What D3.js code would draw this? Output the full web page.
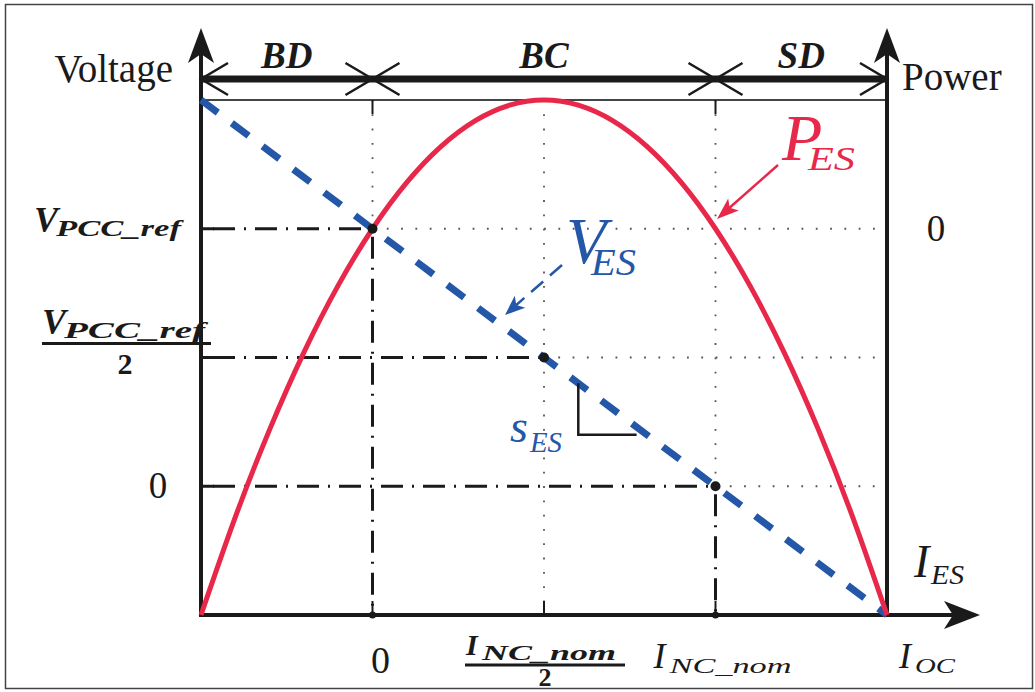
<!DOCTYPE html>
<html>
<head>
<meta charset="utf-8">
<script src="https://cdn.jsdelivr.net/npm/d3@7"></script>
<style>
html, body { margin: 0; padding: 0; background: #fff; }
svg { display: block; }
text { font-family: "Liberation Serif", "Times New Roman", serif; }
</style>
</head>
<body>
<svg id="chart" width="1035" height="692"></svg>
<script>
// current in units of I_NC_nom, voltage in units of V_PCC_ref
const vesCurrent = [-0.5, 1.5]
const vesVoltage = [1.5, -0.5]
const pesCurrent = [-0.5, -0.4, -0.3, -0.2, -0.1, 0, 0.1, 0.2, 0.3, 0.4, 0.5, 0.6, 0.7, 0.8, 0.9, 1, 1.1, 1.2, 1.3, 1.4, 1.5]
const pesPower   = [-0.75, -0.56, -0.39, -0.24, -0.11, 0, 0.09, 0.16, 0.21, 0.24, 0.25, 0.24, 0.21, 0.16, 0.09, 0, -0.11, -0.24, -0.39, -0.56, -0.75]
const keyCurrent = [0, 0.5, 1]
const keyVoltage = [1, 0.5, 0]
const keySolid   = [true, false, true]
const regionNames  = ["BD", "BC", "SD"]
const regionBounds = [-0.5, 0, 1, 1.5]
const slopeCurrent = [0.6, 0.6, 0.77]
const slopeVoltage = [0.4, 0.2, 0.2]

const RED = "#e8284a", BLUE = "#2457a8", INK = "#1a1a1a"

const svg = d3.select("#chart")
const x  = d3.scaleLinear().domain([-0.5, 1.5]).range([201, 887])
const yV = d3.scaleLinear().domain([-0.5, 1.5]).range([615, 100])
const yP = d3.scaleLinear().domain([-0.75, 0.25]).range([615, 100])

const X0 = x(-0.5), X1 = x(1.5), Y0 = yV(-0.5), Y1 = yV(1.5)

// outer frame
svg.append("rect").attr("x", 5.5).attr("y", 4.5).attr("width", 1027).attr("height", 684)
    .attr("fill", "none").attr("stroke", "#444").attr("stroke-width", 1.5)

// stealth arrowhead
function arrowHead(g, tx, ty, angle, L, W, N, color) {
    g.append("path")
        .attr("d", `M0,0L${-L},${-W}L${-L + N},0L${-L},${W}Z`)
        .attr("transform", `translate(${tx},${ty}) rotate(${angle})`)
        .attr("fill", color)
}

const grid = svg.append("g")
const dashDot = "22,9,2,9", dotted = "1.8,12.5"

keyCurrent.forEach((c, i) => {
    const v = keyVoltage[i]
    // horizontal
    grid.append("line").attr("x1", X0 + 12).attr("x2", x(c)).attr("y1", yV(v)).attr("y2", yV(v))
        .attr("stroke", INK).attr("stroke-width", 3).attr("stroke-dasharray", dashDot)
    grid.append("line").attr("x1", x(c)).attr("x2", X1).attr("y1", yV(v)).attr("y2", yV(v))
        .attr("stroke", "#555").attr("stroke-width", 1.8).attr("stroke-dasharray", dotted)
    // vertical
    if (keySolid[i]) {
        grid.append("line").attr("x1", x(c)).attr("x2", x(c)).attr("y1", Y1).attr("y2", yV(v))
            .attr("stroke", "#555").attr("stroke-width", 1.8).attr("stroke-dasharray", dotted)
        grid.append("line").attr("x1", x(c)).attr("x2", x(c)).attr("y1", yV(v) + 8).attr("y2", Y0)
            .attr("stroke", INK).attr("stroke-width", 3).attr("stroke-dasharray", dashDot)
    } else {
        grid.append("line").attr("x1", x(c)).attr("x2", x(c)).attr("y1", Y1).attr("y2", Y0)
            .attr("stroke", "#555").attr("stroke-width", 1.8).attr("stroke-dasharray", dotted)
    }
})

// top thin line
svg.append("line").attr("x1", X0).attr("x2", X1).attr("y1", Y1).attr("y2", Y1)
    .attr("stroke", "#444").attr("stroke-width", 2)
keyCurrent.forEach((c, i) => {
    if (!keySolid[i]) return
    svg.append("line").attr("x1", x(c)).attr("x2", x(c)).attr("y1", Y1).attr("y2", Y1 + 14)
        .attr("stroke", INK).attr("stroke-width", 2)
})

// operating regions bar
const barY = Y1 - 21
const regionG = svg.append("g")
regionG.append("line").attr("x1", X0).attr("x2", X1).attr("y1", barY).attr("y2", barY)
    .attr("stroke", INK).attr("stroke-width", 7)
regionBounds.forEach((b, i) => {
    const bx = x(b)
    if (i > 0) regionG.append("path").attr("d", `M${bx - 27},${barY - 16}L${bx},${barY}L${bx - 27},${barY + 16}`)
        .attr("fill", "none").attr("stroke", INK).attr("stroke-width", 2.5)
    if (i < regionBounds.length - 1) regionG.append("path").attr("d", `M${bx + 27},${barY - 16}L${bx},${barY}L${bx + 27},${barY + 16}`)
        .attr("fill", "none").attr("stroke", INK).attr("stroke-width", 2.5)
})
regionNames.forEach((n, i) => {
    regionG.append("text").attr("x", (x(regionBounds[i]) + x(regionBounds[i + 1])) / 2).attr("y", barY - 11)
        .attr("text-anchor", "middle").attr("font-size", 37).attr("font-weight", "bold")
        .attr("font-style", "italic").attr("fill", INK).text(n)
})

// axes
const axes = svg.append("g")
const tipY = Y1 - 72, tipX = X1 + 93
;[X0, X1].forEach(ax => {
    axes.append("line").attr("x1", ax).attr("x2", ax).attr("y1", Y0 + 2).attr("y2", tipY + 15)
        .attr("stroke", INK).attr("stroke-width", 4)
    arrowHead(axes, ax, tipY, -90, 35, 13, 9, INK)
})
axes.append("line").attr("x1", X0 - 2).attr("x2", tipX - 15).attr("y1", Y0).attr("y2", Y0)
    .attr("stroke", INK).attr("stroke-width", 4)
arrowHead(axes, tipX, Y0, 0, 36, 14, 9, INK)

// ticks
keyCurrent.forEach((c, i) => {
    axes.append("line").attr("x1", x(c)).attr("x2", x(c)).attr("y1", Y0).attr("y2", Y0 - 14)
        .attr("stroke", INK).attr("stroke-width", 2)
    if (keySolid[i]) axes.append("circle").attr("cx", x(c)).attr("cy", Y0).attr("r", 3.5).attr("fill", INK)
})
keyVoltage.forEach(v => {
    axes.append("line").attr("x1", X0).attr("x2", X0 + 13).attr("y1", yV(v)).attr("y2", yV(v))
        .attr("stroke", INK).attr("stroke-width", 3)
})

// V_ES dashed line
const vesLine = d3.line().x(d => x(d[0])).y(d => yV(d[1]))
svg.append("path").datum(vesCurrent.map((c, i) => [c, vesVoltage[i]]))
    .attr("d", vesLine).attr("fill", "none").attr("stroke", BLUE)
    .attr("stroke-width", 7).attr("stroke-dasharray", "21,17.5")

// P_ES curve
const pesLine = d3.line().x(d => x(d[0])).y(d => yP(d[1])).curve(d3.curveNatural)
svg.append("path").datum(pesCurrent.map((c, i) => [c, pesPower[i]]))
    .attr("d", pesLine).attr("fill", "none").attr("stroke", RED).attr("stroke-width", 5)

// key points
svg.append("g").selectAll("circle").data(keyCurrent).join("circle")
    .attr("cx", d => x(d)).attr("cy", (d, i) => yV(keyVoltage[i])).attr("r", 5).attr("fill", INK)

// slope triangle
svg.append("path").datum(slopeCurrent.map((c, i) => [c, slopeVoltage[i]]))
    .attr("d", vesLine).attr("fill", "none").attr("stroke", INK).attr("stroke-width", 2.5)

// math label: one text, main symbol + subscript tspan
function label(px, py, main, sub, o) {
    const t = svg.append("text").attr("fill", o.color || INK)
        .attr("font-style", "italic")
        .attr("font-weight", o.bold ? "bold" : "normal")
    t.append("tspan").attr("x", px).attr("y", py).attr("font-size", o.size).text(main)
    if (sub) {
        const s = t.append("tspan").attr("x", px + o.subDx).attr("y", py + o.subDy)
            .attr("font-size", o.subSize).text(sub)
        if (o.subLen) s.attr("textLength", o.subLen).attr("lengthAdjust", "spacingAndGlyphs")
    }
    return t
}

svg.append("text").attr("x", X0 - 28).attr("y", 82).attr("text-anchor", "end")
    .attr("font-size", 39).attr("fill", INK).text("Voltage")
svg.append("text").attr("x", X1 + 15).attr("y", 90)
    .attr("font-size", 39).attr("fill", INK).text("Power")

// voltage axis labels
label(34, yV(1) + 3, "V", "PCC_ref", { size: 36, bold: true, subSize: 23, subDx: 22, subDy: 4, subLen: 125 })
label(42, yV(0.5) - 24, "V", "PCC_ref", { size: 36, bold: true, subSize: 23, subDx: 22, subDy: 4, subLen: 141 })
svg.append("line").attr("x1", 42).attr("x2", X0 + 10).attr("y1", yV(0.5) - 14).attr("y2", yV(0.5) - 14)
    .attr("stroke", INK).attr("stroke-width", 3)
svg.append("text").attr("x", 125).attr("y", yV(0.5) + 16).attr("text-anchor", "middle")
    .attr("font-size", 30).attr("font-weight", "bold").attr("fill", INK).text("2")
svg.append("text").attr("x", 158).attr("y", yV(0) + 12).attr("text-anchor", "middle")
    .attr("font-size", 37).attr("fill", INK).text("0")

// power axis label
svg.append("text").attr("x", X1 + 49).attr("y", yP(0) + 12).attr("text-anchor", "middle")
    .attr("font-size", 37).attr("fill", INK).text("0")

// current axis labels
svg.append("text").attr("x", x(0) + 8).attr("y", Y0 + 58).attr("text-anchor", "middle")
    .attr("font-size", 38).attr("fill", INK).text("0")
label(x(0.5) - 78, Y0 + 40, "I", "NC_nom", { size: 30, bold: true, subSize: 21, subDx: 16, subDy: 5, subLen: 134 })
svg.append("line").attr("x1", x(0.5) - 79).attr("x2", x(0.5) + 81).attr("y1", Y0 + 50).attr("y2", Y0 + 50)
    .attr("stroke", INK).attr("stroke-width", 3)
svg.append("text").attr("x", x(0.5) + 1).attr("y", Y0 + 71).attr("text-anchor", "middle")
    .attr("font-size", 26).attr("font-weight", "bold").attr("fill", INK).text("2")
label(x(1) - 62, Y0 + 53, "I", "NC_nom", { size: 36, subSize: 22, subDx: 16, subDy: 5, subLen: 122 })
label(x(1.5) + 12, Y0 + 53, "I", "OC", { size: 36, subSize: 22, subDx: 16, subDy: 5, subLen: 40 })
label(X1 + 27, Y0 - 38, "I", "ES", { size: 46, subSize: 28, subDx: 17, subDy: 7, subLen: 33 })

// curve labels
label(566, 263, "V", "ES", { size: 66, color: BLUE, subSize: 37, subDx: 25, subDy: 12, subLen: 45 })
label(782, 160, "P", "ES", { size: 66, color: RED, subSize: 34, subDx: 26, subDy: 10, subLen: 47 })
label(510, 442, "s", "ES", { size: 46, color: BLUE, subSize: 30, subDx: 20, subDy: 10, subLen: 32 })

// leader arrows
const lead = svg.append("g")
lead.append("line").attr("x1", 562).attr("y1", 265).attr("x2", 514).attr("y2", 307)
    .attr("stroke", BLUE).attr("stroke-width", 2.5).attr("stroke-dasharray", "16,9")
arrowHead(lead, 505, 315, Math.atan2(315 - 265, 505 - 562) * 180 / Math.PI, 20, 8, 5, BLUE)
lead.append("line").attr("x1", 778).attr("y1", 165).attr("x2", 727).attr("y2", 210)
    .attr("stroke", RED).attr("stroke-width", 2.5)
arrowHead(lead, 717, 219, Math.atan2(219 - 165, 717 - 778) * 180 / Math.PI, 22, 8, 5, RED)
</script>
</body>
</html>
